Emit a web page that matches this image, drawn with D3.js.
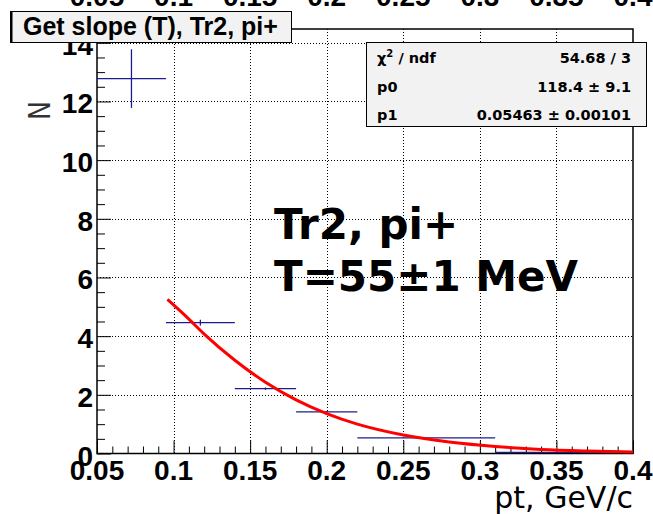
<!DOCTYPE html>
<meta charset="utf-8">
<script src="https://d3js.org/d3.v7.min.js"></script>
<style>
  body { margin: 0; background: #fff; }
</style>
<div id="my_dataviz"></div>
<script>

// histogram bins (variable width) and contents
var binLo  = [0.05, 0.095, 0.14, 0.18, 0.22, 0.31];
var binHi  = [0.095, 0.14, 0.18, 0.22, 0.31, 0.40];
var counts = [12.78, 4.46, 2.21, 1.42, 0.53, 0.04];
var errors = [1.0, 0.1, 0.04, 0.03, 0.02, 0.01];

// fit curve
var fitPt = [0.096, 0.11, 0.12, 0.14, 0.16, 0.18, 0.20, 0.22, 0.25, 0.28, 0.31, 0.34, 0.37, 0.40];
var fitN  = [5.25, 4.58, 4.07, 3.18, 2.43, 1.83, 1.36, 1.00, 0.63, 0.39, 0.24, 0.14, 0.085, 0.05];

var xTicks = [0.05, 0.1, 0.15, 0.2, 0.25, 0.3, 0.35, 0.4];
var yTicks = [0, 2, 4, 6, 8, 10, 12, 14];

var statNames  = ["χ² / ndf", "p0", "p1"];
var statValues = ["54.68 / 3", "118.4 ± 9.1", "0.05463 ± 0.00101"];

var W = 653, H = 514;
var frame = {left: 97, right: 633, top: 29, bottom: 453.5};

var svg = d3.select("#my_dataviz")
  .append("svg")
    .attr("width", W)
    .attr("height", H)
    .style("display", "block");

var x = d3.scaleLinear().domain([0.05, 0.4]).range([frame.left, frame.right]);
var y = d3.scaleLinear().domain([0, 14.47]).range([frame.bottom, frame.top]);

// labels of the pad above, cut at the top edge
svg.append("g").selectAll("text")
  .data(xTicks).enter().append("text")
    .attr("x", function(d) { return x(d); })
    .attr("y", 6)
    .attr("text-anchor", "middle")
    .style("font", "bold 28px 'Liberation Sans', Arial, sans-serif")
    .text(function(d) { return d; });

// grid
var grid = svg.append("g")
  .attr("stroke", "#000")
  .attr("stroke-width", 1)
  .attr("stroke-dasharray", "1,2");
grid.selectAll(".gx").data(xTicks.slice(1, -1)).enter().append("line")
  .attr("x1", function(d) { return Math.round(x(d)) + 0.5; })
  .attr("x2", function(d) { return Math.round(x(d)) + 0.5; })
  .attr("y1", frame.top).attr("y2", frame.bottom);
grid.selectAll(".gy").data(yTicks.slice(1)).enter().append("line")
  .attr("y1", function(d) { return Math.round(y(d)) + 0.5; })
  .attr("y2", function(d) { return Math.round(y(d)) + 0.5; })
  .attr("x1", frame.left).attr("x2", frame.right);

// frame
svg.append("rect")
  .attr("x", frame.left).attr("y", frame.top)
  .attr("width", frame.right - frame.left)
  .attr("height", frame.bottom - frame.top)
  .attr("fill", "none")
  .attr("stroke", "#000")
  .attr("stroke-width", 1.5);

// ticks, drawn inside the frame like ROOT does
var xAxis = d3.axisTop(x)
  .tickValues(d3.range(0.05, 0.40001, 0.01))
  .tickSizeInner(0).tickSizeOuter(0).tickFormat("");
svg.append("g")
  .attr("transform", "translate(0," + frame.bottom + ")")
  .call(xAxis)
  .call(function(g) {
    g.select(".domain").remove();
    g.selectAll(".tick line")
      .attr("y2", function(d) { return Math.abs(Math.round(d * 100) % 5) < 0.01 ? -13 : -7; })
      .attr("stroke", "#000");
  });

var yAxis = d3.axisRight(y)
  .tickValues(d3.range(0, 14.47, 0.5))
  .tickSizeInner(0).tickSizeOuter(0).tickFormat("");
svg.append("g")
  .attr("transform", "translate(" + frame.left + ",0)")
  .call(yAxis)
  .call(function(g) {
    g.select(".domain").remove();
    g.selectAll(".tick line")
      .attr("x2", function(d) { return (d % 2 === 0) ? 14 : 8; })
      .attr("stroke", "#000");
  });

// tick labels
svg.append("g").selectAll("text")
  .data(xTicks).enter().append("text")
    .attr("x", function(d) { return x(d); })
    .attr("y", 480)
    .attr("text-anchor", "middle")
    .style("font", "bold 28px 'Liberation Sans', Arial, sans-serif")
    .text(function(d) { return d; });

svg.append("g").selectAll("text")
  .data(yTicks).enter().append("text")
    .attr("x", 93)
    .attr("y", function(d) { return y(d) + 12; })
    .attr("text-anchor", "end")
    .style("font", "bold 28px 'Liberation Sans', Arial, sans-serif")
    .text(function(d) { return d; });

// axis titles
svg.append("text")
  .attr("x", frame.right)
  .attr("y", 508)
  .attr("text-anchor", "end")
  .style("font", "30px 'DejaVu Sans', sans-serif")
  .text("pt, GeV/c");

svg.append("text")
  .attr("transform", "translate(50,110.5) rotate(-90) scale(0.82,1)")
  .attr("text-anchor", "middle")
  .style("font", "31px 'DejaVu Sans', sans-serif")
  .attr("fill", "#333")
  .text("N");

// histogram points with error bars
var hist = svg.append("g")
  .attr("stroke", "#1c1c8c")
  .attr("stroke-width", 1.3);
counts.forEach(function(c, i) {
  var xm = (binLo[i] + binHi[i]) / 2;
  hist.append("line")
    .attr("x1", x(binLo[i])).attr("x2", x(binHi[i]))
    .attr("y1", y(c)).attr("y2", y(c));
  hist.append("line")
    .attr("x1", x(xm)).attr("x2", x(xm))
    .attr("y1", y(c - errors[i])).attr("y2", y(c + errors[i]));
});

// fit
svg.append("path")
  .datum(fitPt)
  .attr("fill", "none")
  .attr("stroke", "#ff0000")
  .attr("stroke-width", 3)
  .attr("d", d3.line()
    .x(function(d) { return x(d); })
    .y(function(d, i) { return y(fitN[i]); })
    .curve(d3.curveMonotoneX));

// big annotation
var note = svg.append("text")
  .attr("x", 274)
  .style("font", "bold 42px 'DejaVu Sans', sans-serif");
note.append("tspan").attr("x", 274).attr("y", 239).text("Tr2, pi+");
note.append("tspan").attr("x", 274).attr("y", 291).text("T=55±1 MeV");

// stats box
var sb = {x: 366, y: 42, w: 280, h: 84};
svg.append("rect")
  .attr("x", sb.x + 0.5).attr("y", sb.y + 0.5)
  .attr("width", sb.w).attr("height", sb.h)
  .attr("fill", "#f2f2f2")
  .attr("stroke", "#000")
  .attr("stroke-width", 1);
var rowY = [63, 92, 119.5];
var statFont = "bold 14.5px 'DejaVu Sans', sans-serif";
statNames.forEach(function(n, i) {
  var t = svg.append("text")
    .attr("x", 377).attr("y", rowY[i])
    .style("font", statFont);
  if (i === 0) {
    t.append("tspan").text("χ");
    t.append("tspan").attr("dy", -6).style("font-size", "10px").text("2");
    t.append("tspan").attr("dy", 6).text(" / ndf");
  } else {
    t.text(n);
  }
  svg.append("text")
    .attr("x", 631).attr("y", rowY[i])
    .attr("text-anchor", "end")
    .style("font", statFont)
    .text(statValues[i]);
});

// title box
svg.append("rect")
  .attr("x", 10.5).attr("y", 11.5)
  .attr("width", 281).attr("height", 31)
  .attr("fill", "#f2f2f2")
  .attr("stroke", "#000")
  .attr("stroke-width", 1);
svg.append("line")
  .attr("x1", 11.5).attr("x2", 11.5).attr("y1", 11).attr("y2", 43)
  .attr("stroke", "#000").attr("stroke-width", 2);
svg.append("text")
  .attr("x", 23).attr("y", 35)
  .style("font", "bold 25px 'Liberation Sans', Arial, sans-serif")
  .text("Get slope (T), Tr2, pi+");

</script>
